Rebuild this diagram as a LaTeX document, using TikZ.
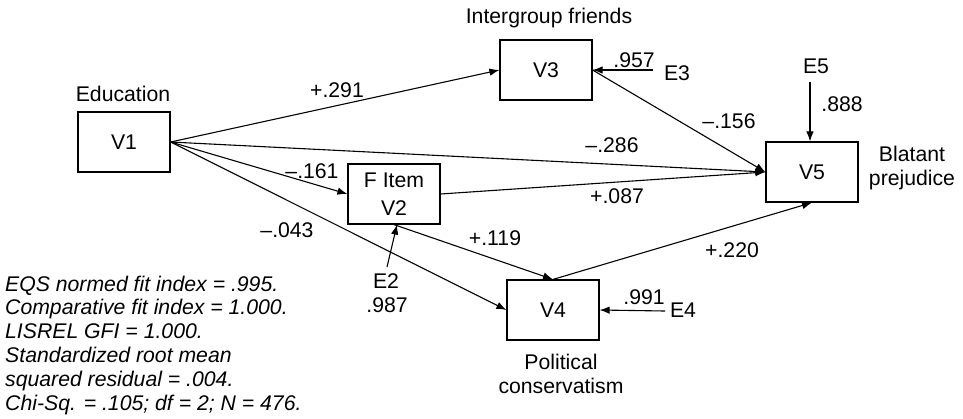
\documentclass[tikz,border=0pt]{standalone}
\usepackage{fontspec}
\setmainfont{Liberation Sans}
\usetikzlibrary{arrows.meta}
\begin{document}
\begin{tikzpicture}[x=1bp,y=-1bp,
  font=\fontsize{21.3}{24}\selectfont,
  var/.style={draw, line width=1.2bp, minimum width=92bp, minimum height=60bp,
              inner sep=0pt, align=center},
  arr/.style={line width=1.1bp, -{Latex[length=10bp,width=7.5bp]}},
  lbl/.style={inner sep=0pt, anchor=base},
  vname/.style={inner sep=0pt, anchor=north, align=center}]
\useasboundingbox[fill=white] (0,0) rectangle (963,418);

% observed variables
\node[var] (V1) at (124,142) {V1};
\node[var] (V2) at (394,194) {F Item\\[4bp]V2};
\node[var] (V3) at (546,70) {V3};
\node[var] (V4) at (553,310) {V4};
\node[var] (V5) at (812,172) {V5};

% variable names
\node[lbl] (edu) at (123,101) {Education};
\node[lbl] (igf) at (549,23) {Intergroup friends};
\node[vname] (blp) at (912,145.7) {Blatant\\prejudice};
\node[vname] (pcn) at (561,353.7) {Political\\conservatism};

% error terms
\node[lbl] (E2) at (386,288) {E2};
\node[lbl] (E3) at (677,80) {E3};
\node[lbl] (E4) at (683,317) {E4};
\node[lbl] (E5) at (816,73) {E5};
\coordinate (e2s) at (387,267);
\coordinate (e3s) at (653,70);
\coordinate (e4s) at (665,311);
\coordinate (e5s) at (810,82);

% structural paths
\draw[arr] (V1.east) -- (V3.west);
\draw[arr] (V1.east) -- (V5.west);
\draw[arr] (V1.east) -- (V2.west);
\draw[arr] (V1.east) -- (V4.west);
\draw[arr] (V2.east) -- (V5.west);
\draw[arr] (V3.east) -- (V5.west);
\draw[arr] (V2.south) -- (V4.north);
\draw[arr] (V4.north) -- (V5.south);

% disturbance paths
\draw[arr] (e2s) -- ([xshift=3bp]V2.south);
\draw[arr] (e3s) -- (V3.east);
\draw[arr] (e4s) -- (V4.east);
\draw[arr] (e5s) -- (e5s |- V5.north);

% coefficients
\node[lbl] (c291) at (337,97) {+.291};
\node[lbl] (c286) at (612,152) {--.286};
\node[lbl] (c087) at (617,203) {+.087};
\node[lbl] (c161) at (312,178) {--.161};
\node[lbl] (c043) at (287,237) {--.043};
\node[lbl] (c119) at (495,245) {+.119};
\node[lbl] (c220) at (732,257) {+.220};
\node[lbl] (c156) at (729,128) {--.156};
\node[lbl] (c957) at (634,67) {.957};
\node[lbl] (c888) at (842,111) {.888};
\node[lbl] (c991) at (644,304) {.991};
\node[lbl] (c987) at (387,312) {.987};

% fit statistics
\node[inner sep=0pt, anchor=north west, align=left, font=\fontsize{21.3}{24}\selectfont\itshape]
  (fit) at (5,275.5) {EQS normed fit index = .995.\\
  Comparative fit index = 1.000.\\
  LISREL GFI = 1.000.\\
  Standardized root mean\\
  squared residual = .004.\\
  Chi-Sq. = .105; df = 2; N = 476.};
\end{tikzpicture}
\end{document}
